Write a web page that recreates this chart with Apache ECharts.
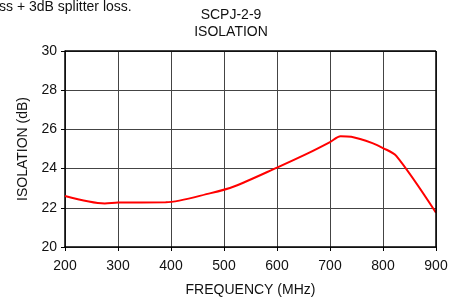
<!DOCTYPE html>
<html>
<head>
<meta charset="utf-8">
<script src="https://cdn.jsdelivr.net/npm/echarts@6/dist/echarts.min.js"></script>
<style>
  html, body { margin: 0; padding: 0; background: #fff; }
  #chart { width: 462px; height: 299px; }
</style>
</head>
<body>
<div id="chart"></div>
<script>
// frequency (MHz) and isolation (dB)
var freqs = [200, 275, 300, 390, 475, 520, 600, 660, 700, 720, 740, 780, 800, 825, 900];
var isolation = [22.6, 22.22, 22.27, 22.28, 22.75, 23.1, 24.05, 24.8, 25.35, 25.65, 25.62, 25.3, 25.05, 24.65, 21.75];
var xTicks = [200, 300, 400, 500, 600, 700, 800, 900];
var yTicks = [20, 22, 24, 26, 28, 30];

(function() {
    var font = 'Liberation Sans, Arial, sans-serif';
    var ink = '#111';
    var grid = '#444';
    var chart = echarts.init(document.getElementById('chart'), null, { renderer: 'canvas' });

    var points = freqs.map(function(f, i) { return [f, isolation[i]]; });

    var option = {
        animation: false,
        backgroundColor: '#fff',
        textStyle: { fontFamily: font },
        graphic: [
            { type: 'text', left: -1, top: 0, style: { text: 'ss + 3dB splitter loss.', fontSize: 14, fontFamily: font, fill: ink } },
            { type: 'text', left: 'center', top: 8, style: { text: 'SCPJ-2-9', fontSize: 14, fontFamily: font, fill: ink } },
            { type: 'text', left: 'center', top: 25, style: { text: 'ISOLATION', fontSize: 14, fontFamily: font, fill: ink } }
        ],
        grid: { left: 65, right: 26, top: 51, bottom: 52, outerBoundsMode: 'none', containLabel: false },
        xAxis: {
            type: 'value',
            min: xTicks[0],
            max: xTicks[xTicks.length - 1],
            interval: 100,
            name: 'FREQUENCY (MHz)',
            nameLocation: 'middle',
            nameGap: 36,
            nameTextStyle: { color: ink, fontSize: 14, fontFamily: font },
            axisLine: { show: true, lineStyle: { color: '#000', width: 1.5 } },
            axisTick: { show: true, length: 4, lineStyle: { color: '#000' } },
            axisLabel: { color: ink, fontSize: 14, margin: 12, fontFamily: font },
            splitLine: { show: true, lineStyle: { color: grid, width: 1 } }
        },
        yAxis: {
            type: 'value',
            min: yTicks[0],
            max: yTicks[yTicks.length - 1],
            interval: 2,
            name: 'ISOLATION (dB)',
            nameLocation: 'middle',
            nameGap: 30,
            nameTextStyle: { color: ink, fontSize: 14, fontFamily: font },
            axisLine: { show: true, lineStyle: { color: '#000', width: 1.5 } },
            axisTick: { show: true, length: 4, lineStyle: { color: '#000' } },
            axisLabel: { color: ink, fontSize: 14, margin: 8, fontFamily: font },
            splitLine: { show: true, lineStyle: { color: grid, width: 1 } }
        },
        series: [{
            type: 'line',
            data: points,
            smooth: 0.3,
            showSymbol: false,
            lineStyle: { color: '#ff0000', width: 2 }
        }, {
            // box border on top and right
            type: 'line',
            data: [],
            markLine: {
                silent: true,
                symbol: 'none',
                label: { show: false },
                lineStyle: { color: '#000', width: 1.5, type: 'solid' },
                data: [{ xAxis: xTicks[xTicks.length - 1] }, { yAxis: yTicks[yTicks.length - 1] }]
            }
        }]
    };

    chart.setOption(option);
    window.addEventListener('resize', function() {
        chart.resize();
    });
})();
</script>
</body>
</html>
